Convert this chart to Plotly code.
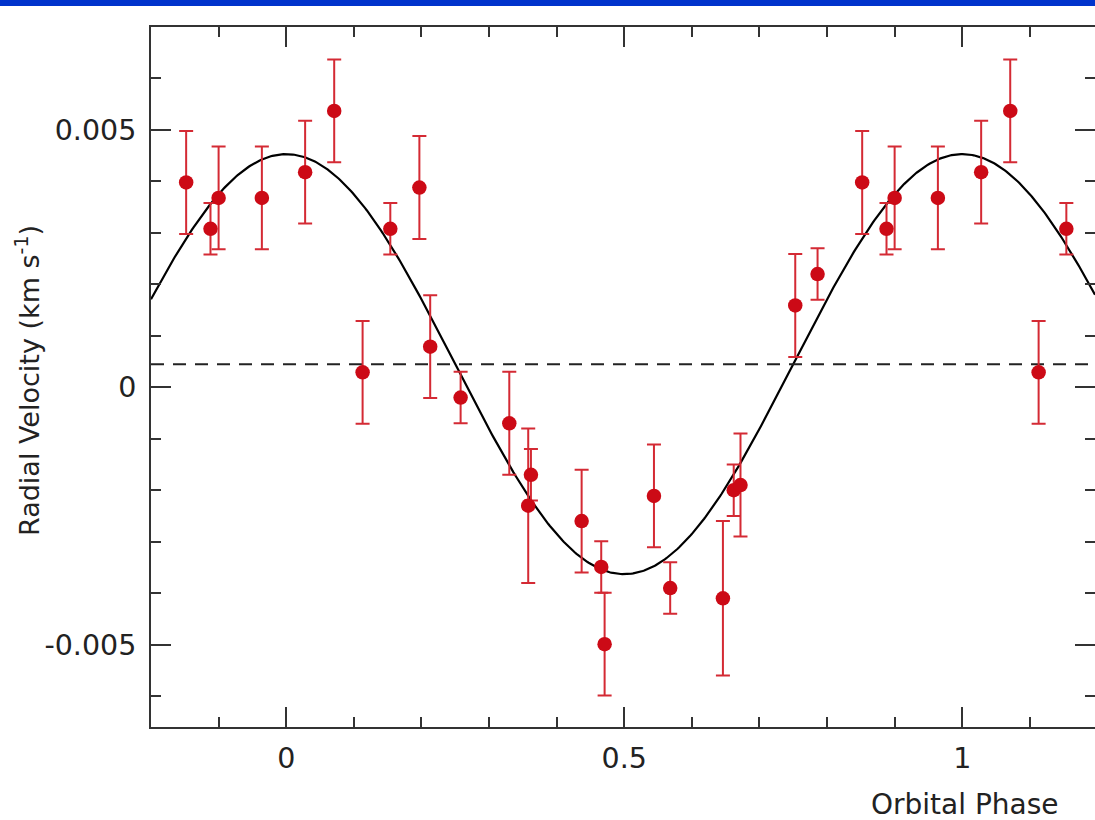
import numpy as np
import plotly.graph_objects as go

# ---- data (phase in [0,1), radial velocity km/s, 1-sigma error) ----
phase = [0.028, 0.071, 0.113, 0.154, 0.197, 0.213, 0.258, 0.330, 0.358, 0.362,
         0.437, 0.466, 0.471, 0.544, 0.568, 0.646, 0.662, 0.672, 0.753, 0.786,
         0.852, 0.888, 0.900, 0.964]
rv = [0.00418, 0.00537, 0.00029, 0.00308, 0.00388, 0.00079, -0.00020, -0.00070, -0.00230, -0.00170,
      -0.00260, -0.00349, -0.00499, -0.00211, -0.00390, -0.00410, -0.00200, -0.00190, 0.00159, 0.00220,
      0.00398, 0.00308, 0.00368, 0.00368]
rv_err = [0.001, 0.001, 0.001, 0.0005, 0.001, 0.001, 0.0005, 0.001, 0.0015, 0.0005,
          0.001, 0.0005, 0.001, 0.001, 0.0005, 0.0015, 0.0005, 0.001, 0.001, 0.0005,
          0.001, 0.0005, 0.001, 0.001]

# orbital fit parameters
gamma = 0.00045   # systemic velocity
K = 0.00408       # semi-amplitude

x_ticks = [0, 0.5, 1]
x_ticktext = ["0", "0.5", "1"]
y_ticks = [-0.005, 0, 0.005]
y_ticktext = ["-0.005", "0", "0.005"]

# repeat phases outside [0,1) within the plotted window
win_lo, win_hi = -0.16, 1.16
px, py, pe = [], [], []
for p, v, e in zip(phase, rv, rv_err):
    for shift in (-1, 0, 1):
        q = p + shift
        if win_lo <= q <= win_hi:
            px.append(q); py.append(v); pe.append(e)

XR = [-0.2, 1.1964]
YR = [-0.0066, 0.0070]

fig = go.Figure()

xc = np.linspace(XR[0], XR[1], 600)
fig.add_trace(go.Scatter(x=xc, y=gamma + K * np.cos(2 * np.pi * xc), mode="lines",
                         line=dict(color="black", width=2.2), hoverinfo="skip", showlegend=False))
fig.add_trace(go.Scatter(x=[XR[0], XR[1]], y=[gamma, gamma], mode="lines",
                         line=dict(color="#222222", width=2, dash="13px,9px"),
                         hoverinfo="skip", showlegend=False))
fig.add_trace(go.Scatter(x=px, y=py, mode="markers",
                         marker=dict(color="#cc0a16", size=14.5),
                         error_y=dict(type="data", array=pe, color="#d42a34", thickness=2, width=7),
                         showlegend=False))
# dummy trace for mirrored tick axes
fig.add_trace(go.Scatter(x=[0], y=[0], xaxis="x2", yaxis="y2", mode="markers",
                         marker=dict(opacity=0), hoverinfo="skip", showlegend=False))

tickfont = dict(family="DejaVu Sans", size=28.5, color="#222222")
axcol = "#333333"

fig.update_layout(
    width=1095, height=820,
    margin=dict(l=151, r=0, t=27, b=93),
    paper_bgcolor="white", plot_bgcolor="white",
    xaxis=dict(range=XR, showgrid=False, zeroline=False, showline=True, linecolor=axcol, linewidth=2,
               ticks="inside", ticklen=20, tickwidth=2, tickcolor=axcol,
               tickvals=x_ticks, ticktext=x_ticktext, tickfont=tickfont, ticklabelstandoff=5,
               minor=dict(ticks="inside", ticklen=10, tickwidth=2, tickcolor=axcol, dtick=0.1, tick0=0)),
    yaxis=dict(range=YR, showgrid=False, zeroline=False, showline=True, linecolor=axcol, linewidth=2,
               ticks="inside", ticklen=20, tickwidth=2, tickcolor=axcol,
               tickvals=y_ticks, ticktext=y_ticktext, tickfont=tickfont, ticklabelstandoff=7,
               minor=dict(ticks="inside", ticklen=10, tickwidth=2, tickcolor=axcol, dtick=0.001, tick0=0)),
    xaxis2=dict(range=XR, overlaying="x", side="top", showgrid=False, zeroline=False,
                showline=True, linecolor=axcol, linewidth=2,
                ticks="inside", ticklen=20, tickwidth=2, tickcolor=axcol,
                tickvals=x_ticks, showticklabels=False,
                minor=dict(ticks="inside", ticklen=10, tickwidth=2, tickcolor=axcol, dtick=0.1, tick0=0)),
    yaxis2=dict(range=YR, overlaying="y", side="right", showgrid=False, zeroline=False,
                showline=False,
                ticks="inside", ticklen=20, tickwidth=2, tickcolor=axcol,
                tickvals=y_ticks, showticklabels=False,
                minor=dict(ticks="inside", ticklen=10, tickwidth=2, tickcolor=axcol, dtick=0.001, tick0=0)),
    shapes=[dict(type="rect", xref="paper", yref="paper",
                 x0=-151 / 944, x1=1.0, y0=1 + 21 / 700, y1=1 + 27 / 700,
                 fillcolor="#0033cc", line=dict(width=0), layer="above")],
    annotations=[
        dict(text="Orbital Phase", xref="paper", yref="paper",
             x=(1061 - 151) / 944, y=-(804 - 727) / 700, xanchor="right", yanchor="middle",
             showarrow=False, font=dict(family="DejaVu Sans", size=28, color="#222222")),
        dict(text="Radial Velocity (km s<sup>-1</sup>)", xref="paper", yref="paper",
             x=-(151 - 27) / 944, y=(727 - 381) / 700, xanchor="center", yanchor="middle",
             textangle=-90, showarrow=False,
             font=dict(family="DejaVu Sans", size=27, color="#222222")),
    ],
)

fig.write_html("out.html")
